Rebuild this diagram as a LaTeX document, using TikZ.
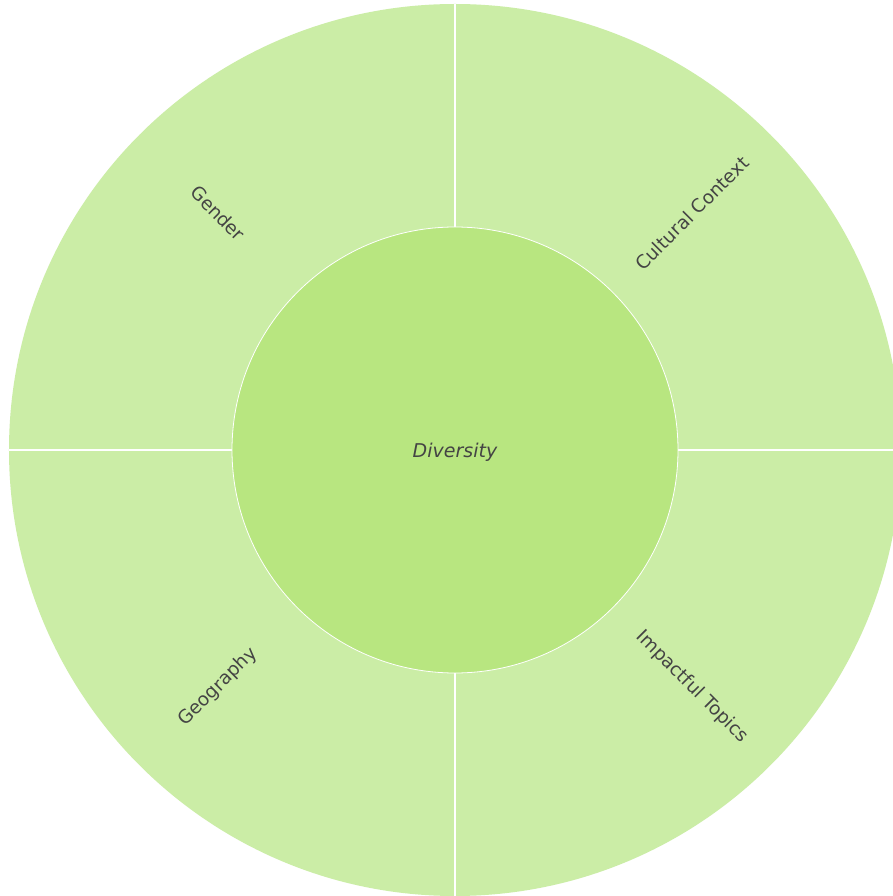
\documentclass[tikz,border=0pt]{standalone}
\usepackage{fontspec}
\setmainfont{DejaVu Sans}
\definecolor{ringgreen}{RGB}{203,237,166}
\definecolor{coregreen}{RGB}{184,230,128}
\definecolor{labelgray}{RGB}{68,68,68}
\tikzset{seglabel/.style={text=labelgray,inner sep=0,font=\fontsize{18.5}{22}\selectfont}}

\begin{document}
\begin{tikzpicture}[x=1pt,y=1pt]
      \clip (-455,-446) rectangle (438,450);
      \fill[white] (-455,-446) rectangle (438,450);
      \fill[ringgreen] (0,0) circle (446);
      \foreach \a in {0,90,180,270}
        \draw[white,line width=1.2pt] (0,0) -- (\a:446);
      \filldraw[fill=coregreen,draw=white,line width=0.8pt] (0,0) circle (223);
      \node[seglabel,font=\fontsize{19}{22}\selectfont\itshape] (diversity) at (0,-2) {Diversity};
      \node[seglabel,rotate=-45] (gender) at (135:335) {Gender};
      \node[seglabel,rotate=45] (cultural) at (45:335) {Cultural Context};
      \node[seglabel,rotate=45] (geography) at (225:335) {Geography};
      \node[seglabel,rotate=-45] (impactful) at (-45:335) {Impactful Topics};
    \end{tikzpicture}
\end{document}
